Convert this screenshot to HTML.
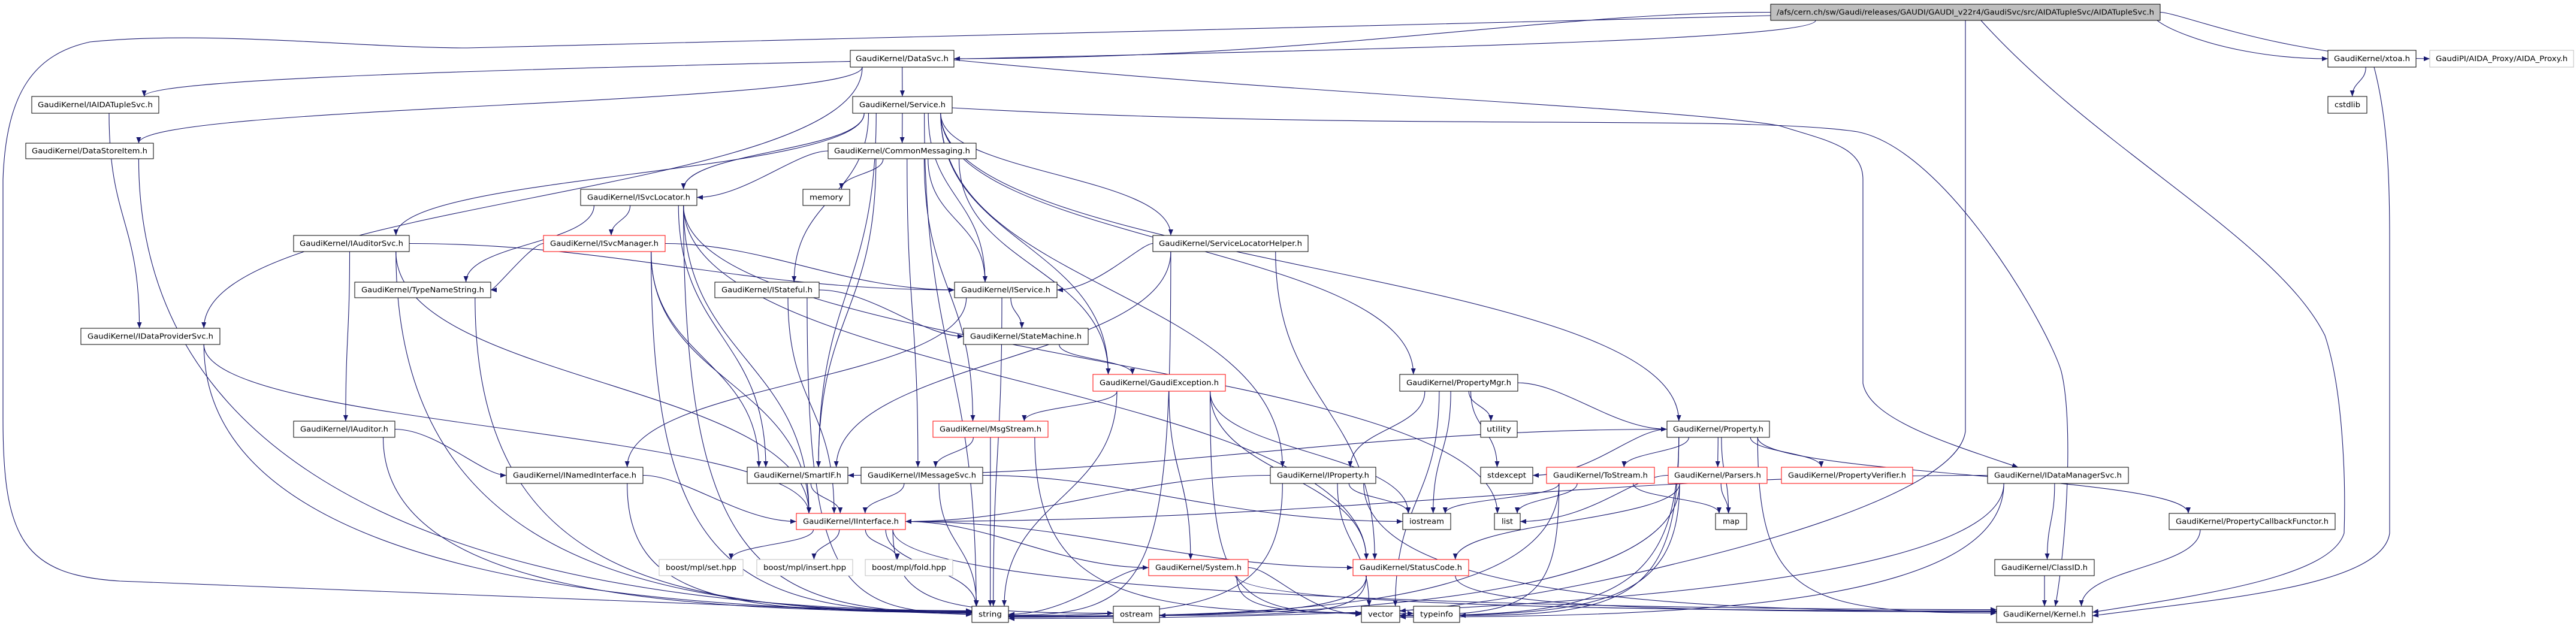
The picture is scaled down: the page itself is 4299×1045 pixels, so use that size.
<!DOCTYPE html>
<html><head><meta charset="utf-8"><style>
html,body{margin:0;padding:0;background:#fff;}
svg{display:block;}
text{font-family:"DejaVu Sans","Liberation Sans",sans-serif;font-size:12px;fill:#000;}
</style></head><body>
<svg id="g" width="4299" height="1045" viewBox="0 0 4299 1045" xmlns="http://www.w3.org/2000/svg">
<defs>
<marker id="ah" markerUnits="userSpaceOnUse" markerWidth="11" markerHeight="8" refX="10" refY="4" orient="auto">
<path d="M0,0 L10,4 L0,8 z" fill="#191970"/>
</marker>
</defs>
<g id="edges" fill="none" stroke="#191970" stroke-width="1.1"></g>
<g id="nodes">
<rect id="root" x="2955" y="7" width="650" height="27" fill="#bfbfbf" stroke="#000"/><text x="3280" y="24.5" text-anchor="middle" textLength="630" lengthAdjust="spacingAndGlyphs">/afs/cern.ch/sw/Gaudi/releases/GAUDI/GAUDI_v22r4/GaudiSvc/src/AIDATupleSvc/AIDATupleSvc.h</text>

<rect id="DataSvc" x="1419" y="84" width="173" height="28" fill="#fff" stroke="#000"/><text x="1505.5" y="102" text-anchor="middle" textLength="155" lengthAdjust="spacingAndGlyphs">GaudiKernel/DataSvc.h</text>
<rect id="xtoa" x="3885" y="84" width="147" height="28" fill="#fff" stroke="#000"/><text x="3958.5" y="102" text-anchor="middle" textLength="127" lengthAdjust="spacingAndGlyphs">GaudiKernel/xtoa.h</text>
<rect id="AIDAProxy" x="4055" y="84" width="240" height="28" fill="#fff" stroke="#bfbfbf"/><text x="4175" y="102" text-anchor="middle" textLength="220" lengthAdjust="spacingAndGlyphs">GaudiPI/AIDA_Proxy/AIDA_Proxy.h</text>

<rect id="IAIDATupleSvc" x="53" y="161" width="212" height="28" fill="#fff" stroke="#000"/><text x="159" y="179" text-anchor="middle" textLength="192" lengthAdjust="spacingAndGlyphs">GaudiKernel/IAIDATupleSvc.h</text>
<rect id="Service" x="1423" y="161" width="166" height="28" fill="#fff" stroke="#000"/><text x="1506" y="179" text-anchor="middle" textLength="144" lengthAdjust="spacingAndGlyphs">GaudiKernel/Service.h</text>
<rect id="cstdlib" x="3885" y="161" width="65" height="28" fill="#fff" stroke="#000"/><text x="3917.5" y="179" text-anchor="middle" textLength="43" lengthAdjust="spacingAndGlyphs">cstdlib</text>

<rect id="DataStoreItem" x="43" y="239" width="213" height="26" fill="#fff" stroke="#000"/><text x="149.5" y="256" text-anchor="middle" textLength="193" lengthAdjust="spacingAndGlyphs">GaudiKernel/DataStoreItem.h</text>
<rect id="CommonMessaging" x="1382" y="239" width="247" height="26" fill="#fff" stroke="#000"/><text x="1505.5" y="256" text-anchor="middle" textLength="227" lengthAdjust="spacingAndGlyphs">GaudiKernel/CommonMessaging.h</text>

<rect id="ISvcLocator" x="969" y="316" width="194" height="27" fill="#fff" stroke="#000"/><text x="1066" y="333.5" text-anchor="middle" textLength="172" lengthAdjust="spacingAndGlyphs">GaudiKernel/ISvcLocator.h</text>
<rect id="memory" x="1340" y="316" width="78" height="27" fill="#fff" stroke="#000"/><text x="1379" y="333.5" text-anchor="middle" textLength="56" lengthAdjust="spacingAndGlyphs">memory</text>

<rect id="IAuditorSvc" x="490" y="393" width="193" height="27" fill="#fff" stroke="#000"/><text x="586.5" y="410.5" text-anchor="middle" textLength="173" lengthAdjust="spacingAndGlyphs">GaudiKernel/IAuditorSvc.h</text>
<rect id="ISvcManager" x="907" y="393" width="203" height="27" fill="#fff" stroke="#f00"/><text x="1008.5" y="410.5" text-anchor="middle" textLength="181" lengthAdjust="spacingAndGlyphs">GaudiKernel/ISvcManager.h</text>
<rect id="ServiceLocatorHelper" x="1924" y="393" width="259" height="27" fill="#fff" stroke="#000"/><text x="2053.5" y="410.5" text-anchor="middle" textLength="239" lengthAdjust="spacingAndGlyphs">GaudiKernel/ServiceLocatorHelper.h</text>

<rect id="TypeNameString" x="592" y="471" width="227" height="26" fill="#fff" stroke="#000"/><text x="705.5" y="488" text-anchor="middle" textLength="205" lengthAdjust="spacingAndGlyphs">GaudiKernel/TypeNameString.h</text>
<rect id="IStateful" x="1193" y="471" width="174" height="26" fill="#fff" stroke="#000"/><text x="1280" y="488" text-anchor="middle" textLength="152" lengthAdjust="spacingAndGlyphs">GaudiKernel/IStateful.h</text>
<rect id="IService" x="1593" y="471" width="171" height="26" fill="#fff" stroke="#000"/><text x="1678.5" y="488" text-anchor="middle" textLength="149" lengthAdjust="spacingAndGlyphs">GaudiKernel/IService.h</text>

<rect id="IDataProviderSvc" x="135" y="548" width="232" height="27" fill="#fff" stroke="#000"/><text x="251" y="565.5" text-anchor="middle" textLength="210" lengthAdjust="spacingAndGlyphs">GaudiKernel/IDataProviderSvc.h</text>
<rect id="StateMachine" x="1608" y="548" width="208" height="27" fill="#fff" stroke="#000"/><text x="1712" y="565.5" text-anchor="middle" textLength="186" lengthAdjust="spacingAndGlyphs">GaudiKernel/StateMachine.h</text>

<rect id="GaudiException" x="1824" y="625" width="221" height="28" fill="#fff" stroke="#f00"/><text x="1934.5" y="643" text-anchor="middle" textLength="199" lengthAdjust="spacingAndGlyphs">GaudiKernel/GaudiException.h</text>
<rect id="PropertyMgr" x="2336" y="625" width="197" height="28" fill="#fff" stroke="#000"/><text x="2434.5" y="643" text-anchor="middle" textLength="175" lengthAdjust="spacingAndGlyphs">GaudiKernel/PropertyMgr.h</text>

<rect id="IAuditor" x="490" y="703" width="169" height="27" fill="#fff" stroke="#000"/><text x="574.5" y="720.5" text-anchor="middle" textLength="147" lengthAdjust="spacingAndGlyphs">GaudiKernel/IAuditor.h</text>
<rect id="MsgStream" x="1557" y="703" width="192" height="27" fill="#fff" stroke="#f00"/><text x="1653" y="720.5" text-anchor="middle" textLength="170" lengthAdjust="spacingAndGlyphs">GaudiKernel/MsgStream.h</text>
<rect id="utility" x="2471" y="703" width="61" height="27" fill="#fff" stroke="#000"/><text x="2501.5" y="720.5" text-anchor="middle" textLength="41" lengthAdjust="spacingAndGlyphs">utility</text>
<rect id="Property" x="2782" y="703" width="171" height="27" fill="#fff" stroke="#000"/><text x="2867.5" y="720.5" text-anchor="middle" textLength="151" lengthAdjust="spacingAndGlyphs">GaudiKernel/Property.h</text>

<rect id="INamedInterface" x="845" y="780" width="228" height="27" fill="#fff" stroke="#000"/><text x="959" y="797.5" text-anchor="middle" textLength="206" lengthAdjust="spacingAndGlyphs">GaudiKernel/INamedInterface.h</text>
<rect id="SmartIF" x="1247" y="780" width="168" height="27" fill="#fff" stroke="#000"/><text x="1331" y="797.5" text-anchor="middle" textLength="146" lengthAdjust="spacingAndGlyphs">GaudiKernel/SmartIF.h</text>
<rect id="IMessageSvc" x="1437" y="780" width="203" height="27" fill="#fff" stroke="#000"/><text x="1538.5" y="797.5" text-anchor="middle" textLength="181" lengthAdjust="spacingAndGlyphs">GaudiKernel/IMessageSvc.h</text>
<rect id="IProperty" x="2120" y="780" width="176" height="27" fill="#fff" stroke="#000"/><text x="2208" y="797.5" text-anchor="middle" textLength="154" lengthAdjust="spacingAndGlyphs">GaudiKernel/IProperty.h</text>
<rect id="stdexcept" x="2471" y="780" width="87" height="27" fill="#fff" stroke="#000"/><text x="2514.5" y="797.5" text-anchor="middle" textLength="65" lengthAdjust="spacingAndGlyphs">stdexcept</text>
<rect id="ToStream" x="2581" y="780" width="180" height="27" fill="#fff" stroke="#f00"/><text x="2671" y="797.5" text-anchor="middle" textLength="158" lengthAdjust="spacingAndGlyphs">GaudiKernel/ToStream.h</text>
<rect id="Parsers" x="2784" y="780" width="165" height="27" fill="#fff" stroke="#f00"/><text x="2866.5" y="797.5" text-anchor="middle" textLength="145" lengthAdjust="spacingAndGlyphs">GaudiKernel/Parsers.h</text>
<rect id="PropertyVerifier" x="2973" y="780" width="219" height="27" fill="#fff" stroke="#f00"/><text x="3082.5" y="797.5" text-anchor="middle" textLength="197" lengthAdjust="spacingAndGlyphs">GaudiKernel/PropertyVerifier.h</text>
<rect id="IDataManagerSvc" x="3317" y="780" width="235" height="27" fill="#fff" stroke="#000"/><text x="3434.5" y="797.5" text-anchor="middle" textLength="213" lengthAdjust="spacingAndGlyphs">GaudiKernel/IDataManagerSvc.h</text>

<rect id="IInterface" x="1329" y="857" width="182" height="27" fill="#fff" stroke="#f00"/><text x="1420" y="874.5" text-anchor="middle" textLength="160" lengthAdjust="spacingAndGlyphs">GaudiKernel/IInterface.h</text>
<rect id="iostream" x="2341" y="857" width="80" height="27" fill="#fff" stroke="#000"/><text x="2381" y="874.5" text-anchor="middle" textLength="58" lengthAdjust="spacingAndGlyphs">iostream</text>
<rect id="list" x="2494" y="857" width="43" height="27" fill="#fff" stroke="#000"/><text x="2515.5" y="874.5" text-anchor="middle" textLength="19" lengthAdjust="spacingAndGlyphs">list</text>
<rect id="map" x="2863" y="857" width="52" height="27" fill="#fff" stroke="#000"/><text x="2889" y="874.5" text-anchor="middle" textLength="28" lengthAdjust="spacingAndGlyphs">map</text>
<rect id="PropertyCallbackFunctor" x="3620" y="857" width="277" height="27" fill="#fff" stroke="#000"/><text x="3758.5" y="874.5" text-anchor="middle" textLength="255" lengthAdjust="spacingAndGlyphs">GaudiKernel/PropertyCallbackFunctor.h</text>

<rect id="sethpp" x="1100" y="934" width="140" height="27" fill="#fff" stroke="#bfbfbf"/><text x="1170" y="951.5" text-anchor="middle" textLength="118" lengthAdjust="spacingAndGlyphs">boost/mpl/set.hpp</text>
<rect id="inserthpp" x="1263" y="934" width="160" height="27" fill="#fff" stroke="#bfbfbf"/><text x="1343" y="951.5" text-anchor="middle" textLength="138" lengthAdjust="spacingAndGlyphs">boost/mpl/insert.hpp</text>
<rect id="foldhpp" x="1444" y="934" width="146" height="27" fill="#fff" stroke="#bfbfbf"/><text x="1517" y="951.5" text-anchor="middle" textLength="124" lengthAdjust="spacingAndGlyphs">boost/mpl/fold.hpp</text>
<rect id="System" x="1917" y="934" width="166" height="27" fill="#fff" stroke="#f00"/><text x="2000" y="951.5" text-anchor="middle" textLength="144" lengthAdjust="spacingAndGlyphs">GaudiKernel/System.h</text>
<rect id="StatusCode" x="2258" y="934" width="193" height="27" fill="#fff" stroke="#f00"/><text x="2354.5" y="951.5" text-anchor="middle" textLength="171" lengthAdjust="spacingAndGlyphs">GaudiKernel/StatusCode.h</text>
<rect id="ClassID" x="3329" y="934" width="166" height="27" fill="#fff" stroke="#000"/><text x="3412" y="951.5" text-anchor="middle" textLength="144" lengthAdjust="spacingAndGlyphs">GaudiKernel/ClassID.h</text>

<rect id="string" x="1622" y="1012" width="61" height="27" fill="#fff" stroke="#000"/><text x="1652.5" y="1029.5" text-anchor="middle" textLength="39" lengthAdjust="spacingAndGlyphs">string</text>
<rect id="ostream" x="1858" y="1012" width="77" height="27" fill="#fff" stroke="#000"/><text x="1896.5" y="1029.5" text-anchor="middle" textLength="55" lengthAdjust="spacingAndGlyphs">ostream</text>
<rect id="vector" x="2272" y="1012" width="64" height="27" fill="#fff" stroke="#000"/><text x="2304" y="1029.5" text-anchor="middle" textLength="42" lengthAdjust="spacingAndGlyphs">vector</text>
<rect id="typeinfo" x="2359" y="1012" width="77" height="27" fill="#fff" stroke="#000"/><text x="2397.5" y="1029.5" text-anchor="middle" textLength="55" lengthAdjust="spacingAndGlyphs">typeinfo</text>
<rect id="Kernel" x="3332" y="1012" width="160" height="27" fill="#fff" stroke="#000"/><text x="3412" y="1029.5" text-anchor="middle" textLength="138" lengthAdjust="spacingAndGlyphs">GaudiKernel/Kernel.h</text>
</g>
</svg>
<script>
(function(){
var E=[
"root DataSvc","root IAIDATupleSvc","root xtoa","root AIDAProxy",
"DataSvc Service","DataSvc IDataProviderSvc","DataSvc DataStoreItem",
"IAIDATupleSvc IDataProviderSvc","DataStoreItem string","xtoa cstdlib",
"Service CommonMessaging","Service ISvcLocator","Service IAuditorSvc","Service IStateful","Service IService",
"Service ServiceLocatorHelper","Service PropertyMgr","Service Property","Service IProperty","Service SmartIF",
"Service string","Service GaudiException",
"CommonMessaging ISvcLocator","CommonMessaging memory","CommonMessaging IService","CommonMessaging SmartIF",
"CommonMessaging IMessageSvc","CommonMessaging MsgStream","CommonMessaging GaudiException",
"ISvcLocator ISvcManager","ISvcLocator TypeNameString","ISvcLocator IInterface","ISvcLocator SmartIF",
"ISvcLocator string","ISvcLocator list","ISvcLocator StatusCode",
"IAuditorSvc IService","IAuditorSvc IAuditor","IAuditorSvc IInterface","IAuditorSvc string",
"ISvcManager TypeNameString","ISvcManager IService","ISvcManager IInterface","ISvcManager SmartIF","ISvcManager string",
"ServiceLocatorHelper IService","ServiceLocatorHelper SmartIF","ServiceLocatorHelper string","ServiceLocatorHelper StatusCode",
"TypeNameString string","IStateful StateMachine","IStateful IInterface","IStateful string",
"IService StateMachine","IService INamedInterface","IService string",
"IDataProviderSvc IInterface","IDataProviderSvc string","StateMachine GaudiException",
"GaudiException MsgStream","GaudiException System","GaudiException StatusCode","GaudiException string",
"GaudiException iostream","GaudiException vector",
"PropertyMgr IProperty","PropertyMgr iostream","PropertyMgr utility","PropertyMgr stdexcept","PropertyMgr Property","PropertyMgr vector",
"IAuditor INamedInterface","IAuditor string","MsgStream IMessageSvc","MsgStream string","MsgStream vector",
"Property SmartIF","Property stdexcept","Property ToStream","Property Parsers","Property PropertyVerifier",
"Property map","Property vector","Property PropertyCallbackFunctor","Property Kernel","Property typeinfo",
"INamedInterface IInterface","INamedInterface string","SmartIF IInterface",
"IMessageSvc IInterface","IMessageSvc string","IMessageSvc iostream",
"IProperty IInterface","IProperty iostream","IProperty string","IProperty vector","IProperty Kernel",
"ToStream iostream","ToStream list","ToStream map","ToStream vector","ToStream string",
"Parsers list","Parsers map","Parsers vector","Parsers string","Parsers StatusCode",
"IDataManagerSvc IInterface","IDataManagerSvc ClassID","IDataManagerSvc string","IDataManagerSvc vector",
"IInterface sethpp","IInterface inserthpp","IInterface foldhpp","IInterface System","IInterface StatusCode",
"IInterface Kernel","IInterface string","IInterface ostream",
"System string","System vector","System typeinfo","System Kernel",
"StatusCode ostream","StatusCode Kernel","StatusCode string",
"ClassID Kernel","PropertyCallbackFunctor Kernel"
];
function box(id){var r=document.getElementById(id);var x=+r.getAttribute('x'),y=+r.getAttribute('y'),w=+r.getAttribute('width'),h=+r.getAttribute('height');return {x:x,y:y,w:w,h:h,cx:x+w/2,cy:y+h/2};}
var g=document.getElementById('edges'),ns="http://www.w3.org/2000/svg";
function cl(v,a){return Math.max(-a,Math.min(a,v));}
function add(d){var pa=document.createElementNS(ns,'path');pa.setAttribute('d',d);pa.setAttribute('marker-end','url(#ah)');g.appendChild(pa);}
E.forEach(function(e){
 var p=e.split(' '),s=box(p[0]),t=box(p[1]);var d;
 var sx=s.cx+cl((t.cx-s.cx)*0.25,s.w/2.6),sy=s.y+s.h;
 var dx=t.cx-s.cx;
 if(t.y>=1000 && Math.abs(dx)>350){
   var side=dx>0?t.x:t.x+t.w, ty=t.cy+cl(-dx*0.004,8);
   var sgn=dx>0?1:-1;
   d="M"+sx+","+sy+" C"+sx+","+(sy+(ty-sy)*0.9)+" "+(side-sgn*Math.min(Math.abs(dx)*0.6,500))+","+ty+" "+side+","+ty;
 } else if(Math.abs(t.cy-s.cy)<90 && Math.abs(dx)>300){
   var side2=dx>0?t.x:t.x+t.w;
   d="M"+(dx>0?s.x+s.w:s.x)+","+s.cy+" C"+(s.cx+dx*0.4)+","+s.cy+" "+(t.cx-dx*0.4)+","+t.cy+" "+side2+","+t.cy;
 } else {
   var tx=t.cx+cl((s.cx-t.cx)*0.2,t.w/2.6),ty2=t.y;
   var dy=ty2-sy;
   d="M"+sx+","+sy+" C"+sx+","+(sy+dy*0.5)+" "+tx+","+(ty2-dy*0.5)+" "+tx+","+ty2;
 }
 add(d);
});
// custom routed edges
add("M2955,26 C2000,50 900,80 780,80 C600,80 350,50 150,70 C60,90 10,150 5,300 L5,700 C5,900 40,960 200,970 C900,1000 1400,1020 1622,1026");
add("M3305,33 C3500,250 3800,400 3880,560 C3910,650 3915,800 3912,890 C3890,960 3700,990 3492,1022");
add("M3962,112 C3985,200 3988,300 3988,400 L3988,890 C3975,980 3700,1000 3492,1028");
add("M3280,33 L3280,720 C3270,800 3050,880 2800,940 C2600,990 2450,1010 2336,1020");
add("M1592,100 C2200,160 2800,180 2970,210 C3050,235 3109,245 3109,300 L3109,640 C3120,700 3250,740 3368,780");
add("M1589,180 C2300,220 2900,190 3100,220 C3250,250 3420,550 3440,620 C3460,700 3450,900 3430,1012");
})();
</script>
</body></html>
